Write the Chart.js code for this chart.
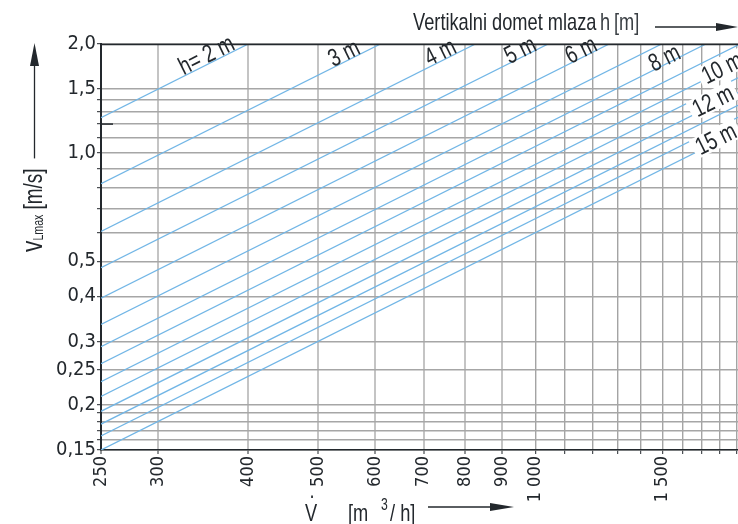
<!DOCTYPE html>
<html><head><meta charset="utf-8">
<script src="https://cdn.jsdelivr.net/npm/chart.js@4/dist/chart.umd.min.js"></script>
<style>html,body{margin:0;padding:0;background:#fff}#wrap{width:738px;height:524px;position:relative}</style>
</head><body><div id="wrap"><canvas id="c" width="738" height="524"></canvas></div>
<script>
// ---- data ----
const heights   = [2, 3, 4, 5, 6, 7, 8, 9, 10, 11, 12, 13, 14, 15];           // h [m]
const startFlow = [250, 250, 250, 250, 250, 250, 250, 250, 250, 250, 250, 250, 250, 250];
const startVel  = [1.25, 0.82, 0.605, 0.48, 0.395, 0.334, 0.29, 0.26, 0.232, 0.211, 0.192, 0.177, 0.164, 0.15];
const endFlow   = [400, 610, 826, 1042, 1266, 1497, 1724, 1910, 1910, 1910, 1910, 1910, 1910, 1910];
const endVel    = [2.0, 2.0, 2.0, 2.0, 2.0, 2.0, 2.0, 1.986, 1.772, 1.612, 1.467, 1.352, 1.253, 1.146];

const lineLabels = ['h= 2 m', '3 m', '4 m', '5 m', '6 m', '8 m', '10 m', '12 m', '15 m'];
const labelFlow  = [350, 543, 738, 953, 1157, 1510, 1815, 1763, 1780];
const labelVel   = [1.864, 1.886, 1.899, 1.924, 1.924, 1.83, 1.715, 1.39, 1.091];
const labelBoxed = [false, false, false, false, false, false, true, true, true];

const xGrid    = [250, 300, 400, 500, 600, 700, 800, 900, 1000, 1100, 1200, 1300, 1400, 1500, 1600, 1700, 1800, 1900];
const xLabeled = [250, 300, 400, 500, 600, 700, 800, 900, 1000, 1500];
const xLabelTx = ['250', '300', '400', '500', '600', '700', '800', '900', '1 000', '1 500'];
const yGrid    = [0.15, 0.16, 0.17, 0.18, 0.19, 0.2, 0.25, 0.3, 0.4, 0.5, 0.6, 0.7, 0.8, 0.9, 1.0, 1.1, 1.2, 1.3, 1.4, 1.5, 2.0];
const yLabeled = [0.15, 0.2, 0.25, 0.3, 0.4, 0.5, 1.0, 1.5, 2.0];
const yLabelTx = ['0,15', '0,2', '0,25', '0,3', '0,4', '0,5', '1,0', '1,5', '2,0'];
const xMin = 250, xMax = 1910, yMin = 0.15, yMax = 2.0;

// ---- styling ----
const TICKFONT = "'DejaVu Sans Condensed','Liberation Sans Narrow',sans-serif";
const TXTFONT = "'Liberation Sans',Arial,sans-serif";
const NARROW = 0.76;
const INK = '#23282d';
const BLUE = '#72b6e6';

function findLabel(list, texts, v) {
  for (let i = 0; i < list.length; i++) if (Math.abs(list[i] - v) < 1e-6 * Math.max(1, v)) return texts[i];
  return '';
}
// narrow text: Liberation Sans squeezed horizontally (condensed look)
function ntext(ctx, s, x, y, size, align) {
  ctx.save();
  ctx.translate(x, y); ctx.scale(NARROW, 1);
  ctx.font = `${size}px ${TXTFONT}`;
  ctx.textAlign = align || 'left';
  ctx.fillText(s, 0, 0);
  const w = ctx.measureText(s).width * NARROW;
  ctx.restore();
  return w;
}
function nwidth(ctx, s, size) {
  ctx.save(); ctx.font = `${size}px ${TXTFONT}`;
  const w = ctx.measureText(s).width * NARROW; ctx.restore(); return w;
}

const extras = {
  id: 'extras',
  afterDraw(chart) {
    const ctx = chart.ctx, a = chart.chartArea, xs = chart.scales.x, ys = chart.scales.y;
    ctx.save();
    // top frame line
    ctx.strokeStyle = INK; ctx.lineWidth = 1.5;
    ctx.beginPath(); ctx.moveTo(a.left, a.top + 0.5); ctx.lineTo(a.right, a.top + 0.5); ctx.stroke();
    // short dark mark at 1,2
    const y12 = ys.getPixelForValue(1.2);
    ctx.beginPath(); ctx.moveTo(a.left, y12); ctx.lineTo(a.left + 12, y12); ctx.stroke();

    // line labels, rotated along the lines
    const p1x = xs.getPixelForValue(startFlow[0]), p1y = ys.getPixelForValue(startVel[0]);
    const p2x = xs.getPixelForValue(endFlow[0]), p2y = ys.getPixelForValue(endVel[0]);
    const ang = Math.atan2(p2y - p1y, p2x - p1x);
    ctx.textBaseline = 'middle';
    for (let i = 0; i < lineLabels.length; i++) {
      const px = xs.getPixelForValue(labelFlow[i]), py = ys.getPixelForValue(labelVel[i]);
      ctx.save(); ctx.translate(px, py); ctx.rotate(ang);
      const w = nwidth(ctx, lineLabels[i], 25);
      if (labelBoxed[i]) { ctx.fillStyle = '#fff'; ctx.fillRect(-w / 2 - 4, -11, w + 8, 21); }
      ctx.fillStyle = INK; ntext(ctx, lineLabels[i], 0, 1, 25, 'center');
      ctx.restore();
    }

    ctx.fillStyle = INK; ctx.strokeStyle = INK;
    ctx.textBaseline = 'alphabetic';
    // top title
    ntext(ctx, 'Vertikalni domet mlaza', 413, 30, 24);
    ctx.fillStyle = '#3a3f44';
    ntext(ctx, 'h', 600, 30, 24);
    ntext(ctx, '[m]', 614, 30, 24);
    ctx.fillStyle = INK;
    ctx.lineWidth = 1.3;
    ctx.beginPath(); ctx.moveTo(655, 27); ctx.lineTo(722, 27); ctx.stroke();
    ctx.beginPath(); ctx.moveTo(738, 27); ctx.lineTo(716, 23); ctx.lineTo(716, 31); ctx.closePath(); ctx.fill();

    // y-axis title (rotated)
    ctx.save();
    ctx.translate(42, 252); ctx.rotate(-Math.PI / 2);
    let off = ntext(ctx, 'v', 0, 0, 30);
    off += ntext(ctx, 'Lmax', off, 1, 14) + 5;
    off += ntext(ctx, '[m/s]', off, 0, 25) + 10;
    ctx.lineWidth = 1.3;
    ctx.beginPath(); ctx.moveTo(off, -7.5); ctx.lineTo(190, -7.5); ctx.stroke();
    ctx.beginPath(); ctx.moveTo(209, -7.5); ctx.lineTo(186, -12); ctx.lineTo(186, -3); ctx.closePath(); ctx.fill();
    ctx.restore();

    // x-axis title
    ntext(ctx, 'V', 305, 521, 24);
    ntext(ctx, '·', 309, 503, 24);
    ntext(ctx, '[m', 348, 521, 24);
    ntext(ctx, '3', 381, 510, 16);
    ntext(ctx, '/ h]', 390, 521, 24);
    ctx.lineWidth = 1.3;
    ctx.beginPath(); ctx.moveTo(428, 507); ctx.lineTo(492, 507); ctx.stroke();
    ctx.beginPath(); ctx.moveTo(514, 507); ctx.lineTo(490, 503); ctx.lineTo(490, 511); ctx.closePath(); ctx.fill();
    ctx.restore();
  }
};

new Chart(document.getElementById('c'), {
  type: 'line',
  data: {
    datasets: heights.map((h, i) => ({
      label: h + ' m',
      data: [{ x: startFlow[i], y: startVel[i] }, { x: endFlow[i], y: endVel[i] }],
      borderColor: BLUE, borderWidth: 1.3, pointRadius: 0, fill: false, tension: 0
    }))
  },
  options: {
    responsive: false, animation: false, devicePixelRatio: 1,
    layout: { padding: { top: 44, left: 0, right: 0, bottom: 0 } },
    plugins: { legend: { display: false }, tooltip: { enabled: false } },
    scales: {
      x: {
        type: 'logarithmic', min: xMin, max: xMax, bounds: 'data',
        afterBuildTicks: s => { s.ticks = xGrid.map(v => ({ value: v })); },
        afterFit: s => { s.height = 74; s.paddingLeft = 0; s.paddingRight = 0; },
        ticks: {
          autoSkip: false, minRotation: 90, maxRotation: 90, padding: 2, color: INK,
          font: { family: TICKFONT, size: 18 },
          callback: v => findLabel(xLabeled, xLabelTx, v)
        },
        grid: {
          color: c => (c.tick && c.tick.value < 1000) ? '#c4c4c4' : '#a4a4a4',
          lineWidth: c => (c.tick && c.tick.value < 1000) ? 2 : 1.4,
          drawTicks: true, tickLength: 4, tickColor: INK, tickWidth: 1
        },
        border: { display: true, color: INK, width: 1.5 }
      },
      y: {
        type: 'logarithmic', min: yMin, max: yMax, bounds: 'data',
        afterBuildTicks: s => { s.ticks = yGrid.map(v => ({ value: v })); },
        afterFit: s => { s.width = 101; s.paddingTop = 0; s.paddingBottom = 0; },
        ticks: {
          autoSkip: false, padding: 1, color: INK,
          font: { family: TICKFONT, size: 20 },
          callback: v => findLabel(yLabeled, yLabelTx, v)
        },
        grid: {
          color: '#a6a6a6', lineWidth: 1.4,
          drawTicks: true, tickLength: 4, tickColor: INK, tickWidth: 1
        },
        border: { display: true, color: INK, width: 2 }
      }
    }
  },
  plugins: [extras]
});
</script>
</body></html>
